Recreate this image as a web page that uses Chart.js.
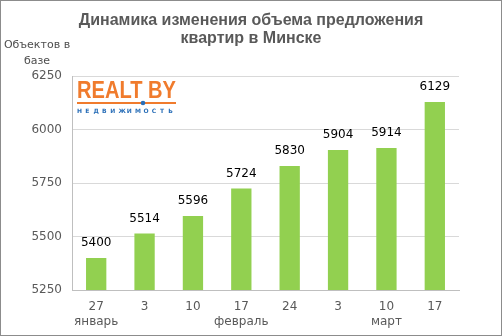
<!DOCTYPE html>
<html><head><meta charset="utf-8">
<script src="https://cdn.jsdelivr.net/npm/chart.js@4/dist/chart.umd.min.js"></script>
<style>
html,body{margin:0;padding:0;background:#fff;}
#wrap{position:relative;width:502px;height:336px;box-sizing:border-box;border:1px solid #8c8c8c;}
canvas{display:block;}
</style></head><body>
<div id="wrap"><canvas id="c" width="500" height="334"></canvas></div>
<script>
const days = ["27","3","10","17","24","3","10","17"];
const months = ["январь","","","февраль","","","март",""];
const values = [5400,5514,5596,5724,5830,5904,5914,6129];
const yTicks = [5250,5500,5750,6000,6250];
const titleLines = ["Динамика изменения объема предложения","квартир в Минске"];
const yTitleLines = ["Объектов в","базе"];

const labels = days.map((d,i)=>[d, months[i]]);

const decor = {
  id:'decor',
  afterDraw(chart){
    const ctx = chart.ctx;
    ctx.save();
    // title
    ctx.fillStyle='#595959';
    ctx.textAlign='center';ctx.textBaseline='middle';
    ctx.font='bold 16px "Liberation Sans", Arial, sans-serif';
    ctx.fillText(titleLines[0],250,20);
    ctx.fillText(titleLines[1],250,38);
    // y title
    ctx.fillStyle='#4d4d4d';
    ctx.font='11px "DejaVu Sans", sans-serif';
    ctx.fillText(yTitleLines[0],36,44);
    ctx.fillText(yTitleLines[1],36,60);
    // logo
    ctx.textAlign='left';ctx.textBaseline='alphabetic';
    ctx.fillStyle='#f07b2d';
    ctx.font='bold 23px "Liberation Sans Narrow", "Liberation Sans", Arial, sans-serif';
    const w = ctx.measureText('REALT BY').width;
    ctx.save();
    ctx.translate(76,97);
    ctx.scale(99/w,1);
    ctx.fillText('REALT BY',0,0);
    ctx.restore();
    ctx.fillRect(76,101,99,2);
    ctx.fillStyle='#2a6fb8';
    ctx.beginPath();ctx.arc(142,102,2.3,0,Math.PI*2);ctx.fill();
    ctx.font='bold 6px "DejaVu Sans", sans-serif';
    const word='НЕДВИЖИМОСТЬ';
    for(let i=0;i<word.length;i++){ctx.fillText(word[i],76+i*8.3,112);}
    // data labels
    const meta = chart.getDatasetMeta(0);
    ctx.fillStyle='#000';
    ctx.textAlign='center';ctx.textBaseline='middle';
    ctx.font='12px "DejaVu Sans", sans-serif';
    meta.data.forEach((bar,i)=>{
      ctx.fillText(String(values[i]), bar.x, bar.y-15);
    });
    ctx.restore();
  }
};

new Chart(document.getElementById('c'),{
  type:'bar',
  data:{labels:labels,datasets:[{data:values,backgroundColor:'#92d050',barPercentage:0.42,categoryPercentage:1}]},
  options:{
    responsive:false,animation:false,
    layout:{padding:{left:0,right:42,top:75,bottom:0}},
    plugins:{legend:{display:false},title:{display:false},tooltip:{enabled:false}},
    scales:{
      y:{min:5250,max:6250,
        afterBuildTicks(axis){axis.ticks=yTicks.map(v=>({value:v}));},
        afterFit(axis){axis.width=71;},
        grid:{color:'#d9d9d9',drawTicks:false},
        border:{color:'#bfbfbf'},
        ticks:{color:'#595959',padding:10,callback:v=>String(v),font:{family:'"DejaVu Sans", sans-serif',size:12}}
      },
      x:{
        afterFit(axis){axis.height=45;},
        grid:{display:false,drawTicks:false},
        border:{color:'#bfbfbf'},
        ticks:{color:'#595959',padding:9,maxRotation:0,autoSkip:false,font:{family:'"DejaVu Sans", sans-serif',size:12,lineHeight:1.25}}
      }
    }
  },
  plugins:[decor]
});
</script></body></html>
